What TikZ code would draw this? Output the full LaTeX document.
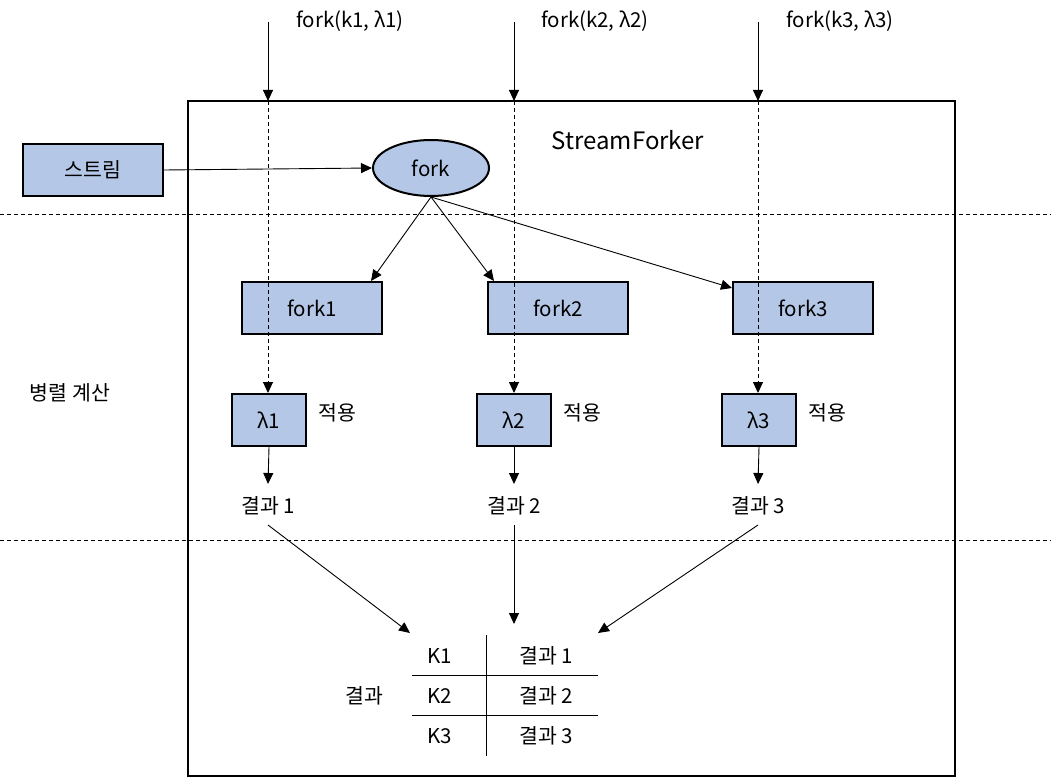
\documentclass[tikz,border=0pt]{standalone}
\usepackage{fontspec}
\setmainfont{Noto Sans CJK KR}
\usetikzlibrary{arrows.meta,shapes.geometric}
\definecolor{boxblue}{HTML}{B4C7E7}
\tikzset{
  bluebox/.style={draw=black,line width=2pt,fill=boxblue,minimum width=140pt,minimum height=52pt,inner sep=0pt,font=\fontsize{20.5}{24}\selectfont},
  lambox/.style={draw=black,line width=2pt,fill=boxblue,minimum width=74pt,minimum height=52pt,inner sep=0pt,font=\fontsize{20.5}{24}\selectfont},
  txt/.style={inner sep=0pt,font=\fontsize{20.5}{24}\selectfont},
  conn/.style={line width=0.9pt,-{Triangle[length=11pt,width=10pt]}},
  dconn/.style={line width=0.9pt,dash pattern=on 4pt off 3pt,-{Triangle[length=11pt,width=10pt]}},
  sep/.style={line width=0.9pt,dash pattern=on 4pt off 3pt},
  tline/.style={line width=0.9pt}
}
\begin{document}
\begin{tikzpicture}[x=1pt,y=-1pt]
\useasboundingbox (0,0) rectangle (1051,778);
% frame
\draw[line width=2pt] (188,101) rectangle (955,776);
\node[inner sep=0pt,font=\fontsize{24}{28}\selectfont] (title) at (628,140) {StreamForker};
% separators
\draw[sep] (0,214) -- (1051,214);
\draw[sep] (0,540) -- (1051,540);
% stream and fork
\node[bluebox] (stream) at (93,170) {스트림};
\node[ellipse,draw=black,line width=2pt,fill=boxblue,minimum width=116pt,minimum height=56pt,inner sep=0pt,font=\fontsize{20.5}{24}\selectfont] (fork) at (431,168) {fork};
\draw[conn] (stream.east) -- (fork.west);
% fork boxes
\node[bluebox] (f1) at (312,308) {fork1};
\node[bluebox] (f2) at (558,308) {fork2};
\node[bluebox] (f3) at (803,308) {fork3};
\draw[conn] (fork.south) -- ([xshift=-12pt]f1.north east);
\draw[conn] (fork.south) -- ([xshift=7pt]f2.north west);
\draw[conn] (fork.south) -- ([yshift=-7pt]f3.north west);
% lambda boxes
\node[lambox] (l1) at (269,420) {λ1};
\node[lambox] (l2) at (514,420) {λ2};
\node[lambox] (l3) at (759,420) {λ3};
\node[txt] (a1) at (337,413) {적용};
\node[txt] (a2) at (582,413) {적용};
\node[txt] (a3) at (827,413) {적용};
% top inputs
\node[txt] (in1) at (350,21) {fork(k1, λ1)};
\node[txt] (in2) at (595,21) {fork(k2, λ2)};
\node[txt] (in3) at (840,21) {fork(k3, λ3)};
\coordinate (s1) at (268,22); \coordinate (e1) at (268,101);
\coordinate (s2) at (514,22); \coordinate (e2) at (514,101);
\coordinate (s3) at (758,22); \coordinate (e3) at (758,101);
\draw[conn] (s1) -- (e1);
\draw[conn] (s2) -- (e2);
\draw[conn] (s3) -- (e3);
\draw[dconn] (e1) -- (l1.north -| e1);
\draw[dconn] (e2) -- (l2.north -| e2);
\draw[dconn] (e3) -- (l3.north -| e3);
% results
\node[txt] (r1) at (268,506) {결과 1};
\node[txt] (r2) at (514,506) {결과 2};
\node[txt] (r3) at (758,506) {결과 3};
\coordinate (q1) at (268,484); \coordinate (q2) at (514,484); \coordinate (q3) at (758,484);
\draw[conn] (l1.south) -- (q1);
\draw[conn] (l2.south) -- (q2);
\draw[conn] (l3.south) -- (q3);
\node[txt] (par) at (70,393) {병렬 계산};
% table
\coordinate (tv1) at (486,635); \coordinate (tv2) at (486,756);
\coordinate (th1a) at (412,675); \coordinate (th1b) at (598,675);
\coordinate (th2a) at (412,715); \coordinate (th2b) at (598,715);
\draw[tline] (tv1) -- (tv2);
\draw[tline] (th1a) -- (th1b);
\draw[tline] (th2a) -- (th2b);
\node[txt] (k1) at (440,656) {K1};
\node[txt] (k2) at (440,696) {K2};
\node[txt] (k3) at (440,736) {K3};
\node[txt] (v1) at (546,656) {결과 1};
\node[txt] (v2) at (546,696) {결과 2};
\node[txt] (v3) at (546,736) {결과 3};
\node[txt] (res) at (364,696) {결과};
\coordinate (p1) at (268,525); \coordinate (p2) at (514,525); \coordinate (p3) at (758,525);
\coordinate (t1) at (410,633);
\coordinate (t2) at (514,624);
\coordinate (t3) at (598,633);
\draw[conn] (p1) -- (t1);
\draw[conn] (p2) -- (t2);
\draw[conn] (p3) -- (t3);
\end{tikzpicture}
\end{document}
